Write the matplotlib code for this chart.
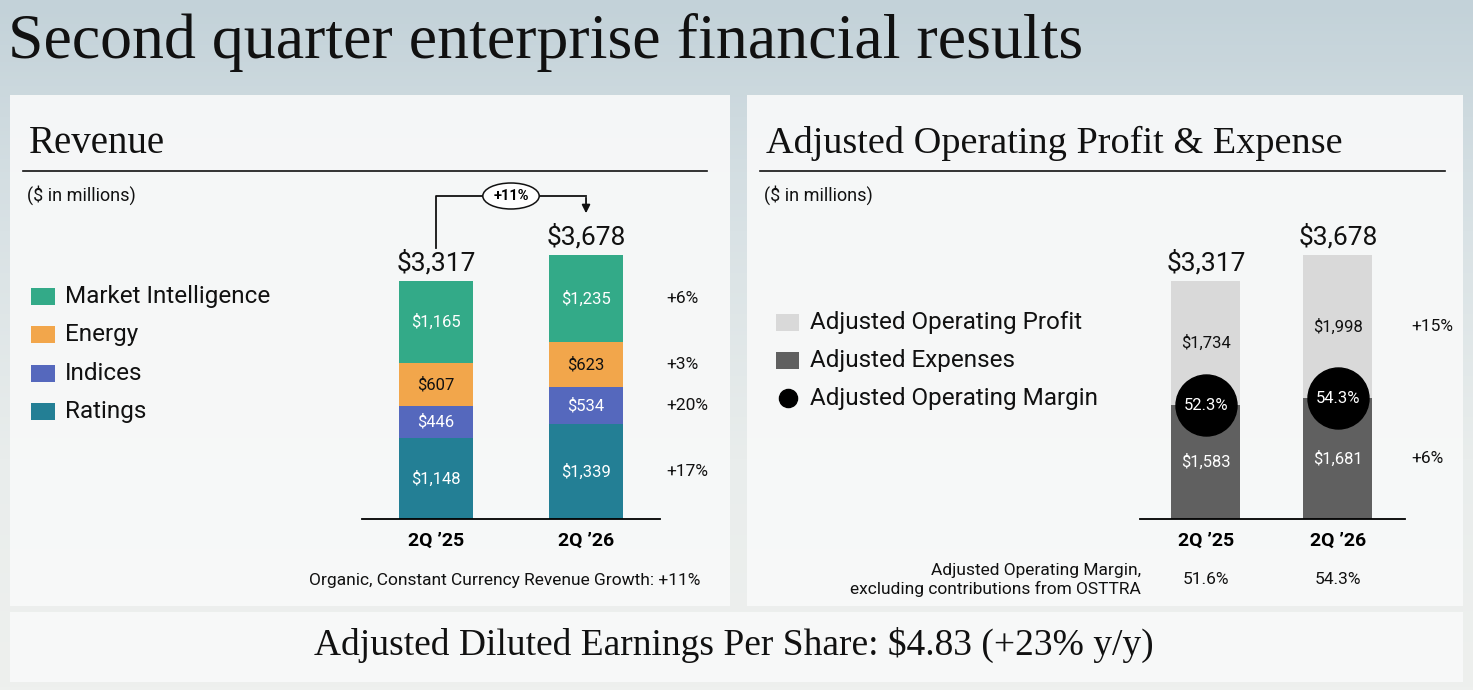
import matplotlib
matplotlib.use("Agg")
import matplotlib.pyplot as plt
import matplotlib.transforms as mtransforms
from matplotlib.colors import LinearSegmentedColormap
from matplotlib.patches import Rectangle
import numpy as np

plt.rcParams['text.parse_math'] = False
plt.rcParams['font.family'] = ['Roboto', 'DejaVu Sans']
SERIF = ['Liberation Serif', 'DejaVu Serif']

# --- data ---
quarters = ['2Q \u201925', '2Q \u201926']

# revenue, stacked bottom -> top
rev_segments = ['Ratings', 'Indices', 'Energy', 'Market Intelligence']
ratings = [1148, 1339]
indices = [446, 534]
energy = [607, 623]
market_intel = [1165, 1235]
rev_total = [3317, 3678]
rev_growth = ['+17%', '+20%', '+3%', '+6%']
rev_colors = ['#237f95', '#5568bd', '#f2a64b', '#33aa88']
rev_text_colors = ['white', 'white', '#111111', 'white']
legend_order = ['Market Intelligence', 'Energy', 'Indices', 'Ratings']
total_growth = '+11%'
organic_note = 'Organic, Constant Currency Revenue Growth: +11%'

# operating profit & expense
op_expenses = [1583, 1681]
op_profit = [1734, 1998]
op_total = [3317, 3678]
op_margin = [52.3, 54.3]
op_margin_ex_osttra = [51.6, 54.3]
op_growth = ['+6%', '+15%']
op_labels = ['Adjusted Operating Profit', 'Adjusted Expenses', 'Adjusted Operating Margin']
op_colors = ['#d9d9d9', '#606060']

eps_text = 'Adjusted Diluted Earnings Per Share: $4.83 (+23% y/y)'

# --- figure & background (pixel coords overlay) ---
W, H = 1473, 690
fig = plt.figure(figsize=(W / 100, H / 100), dpi=100)
bg = fig.add_axes([0, 0, 1, 1])
bg.set_xlim(0, W)
bg.set_ylim(H, 0)
bg.axis('off')

sky = LinearSegmentedColormap.from_list('sky', ['#c3d2d9', '#d9e2e5', '#e9edec', '#eef0ee'])
bg.imshow(np.linspace(0, 1, 200).reshape(-1, 1), cmap=sky, extent=[0, W, H, 0],
          aspect='auto', zorder=0)

for x0, y0, w, h in [(10, 95, 720, 511), (747, 95, 716, 511), (10, 612, 1453, 70)]:
    bg.add_patch(Rectangle((x0, y0), w, h, fc='#f8f9f9', ec='none', alpha=0.93, zorder=1))

bg.text(8, 58, 'Second quarter enterprise financial results', family=SERIF,
        fontsize=46, color='#111111', va='baseline', ha='left', zorder=2)
bg.text(29, 153, 'Revenue', family=SERIF, fontsize=28, color='#111111', va='baseline', zorder=2)
bg.text(766, 153, 'Adjusted Operating Profit & Expense', family=SERIF, fontsize=27.5,
        color='#111111', va='baseline', zorder=2)
bg.plot([23, 707], [171, 171], color='#111111', lw=1.2, zorder=2)
bg.plot([760, 1445], [171, 171], color='#111111', lw=1.2, zorder=2)
bg.text(27, 195, '($ in millions)', fontsize=13, color='#111111', va='center', zorder=2)
bg.text(764, 195, '($ in millions)', fontsize=13, color='#111111', va='center', zorder=2)
bg.text(734, 645, eps_text, family=SERIF, fontsize=27, color='#111111',
        ha='center', va='center', zorder=2)

# legends
color_of = dict(zip(rev_segments, rev_colors))
for i, name in enumerate(legend_order):
    y = 296 + i * 38.5
    bg.add_patch(Rectangle((31, y - 8.5), 24, 17, fc=color_of[name], ec='none', zorder=2))
    bg.text(65, y, name, fontsize=17.5, color='#111111', va='center', zorder=2)

for i, name in enumerate(op_labels):
    y = 322 + i * 38
    if i < 2:
        bg.add_patch(Rectangle((776, y - 8.5), 23, 17, fc=op_colors[i], ec='none', zorder=2))
    else:
        bg.scatter([788], [y], s=170, color='black', zorder=2)
    bg.text(810, y, name, fontsize=17.5, color='#111111', va='center', zorder=2)

# --- revenue chart ---
YMAX = 4725
ax1 = fig.add_axes([362 / W, (H - 519) / H, 298 / W, 339 / H])
ax1.patch.set_visible(False)
x = np.arange(len(quarters))
stack = np.array([ratings, indices, energy, market_intel], dtype=float)
stack = stack * (np.array(rev_total) / stack.sum(axis=0))  # bars drawn to the reported total
bottom = np.zeros(len(quarters))
for k, vals in enumerate(stack):
    raw = [ratings, indices, energy, market_intel][k]
    ax1.bar(x, vals, 0.49, bottom=bottom, color=rev_colors[k], edgecolor='none')
    for j in range(len(quarters)):
        ax1.text(x[j], bottom[j] + vals[j] / 2, f'${raw[j]:,}', ha='center', va='center',
                 fontsize=12, color=rev_text_colors[k])
    ax1.text(1.533, bottom[1] + vals[1] / 2, rev_growth[k], ha='left', va='center',
             fontsize=12.5, color='#111111', clip_on=False)
    bottom += vals
for j in range(len(quarters)):
    ax1.annotate(f'${rev_total[j]:,}', (x[j], rev_total[j]), xytext=(0, 4),
                 textcoords='offset points', ha='center', va='bottom', fontsize=19, color='#111111')

# growth bracket
top = rev_total[1] + 824
ax1.plot([0, 0, 1], [rev_total[0] + 460, top, top], color='#111111', lw=1.3, clip_on=False)
ax1.annotate('', xy=(1, rev_total[1] + 545), xytext=(1, top + 15),
             arrowprops=dict(arrowstyle='-|>', color='#111111', lw=1.3, mutation_scale=12),
             annotation_clip=False)
ax1.text(0.5, top, total_growth, ha='center', va='center', fontsize=10.5, fontweight='bold',
         bbox=dict(boxstyle='ellipse,pad=0.15', fc='white', ec='#111111', lw=1.1))

ax1.set_xlim(-0.493, 1.493)
ax1.set_ylim(0, YMAX)
ax1.set_xticks(x, quarters, fontsize=14, fontweight='bold')
ax1.tick_params(axis='x', length=0, pad=9)
ax1.set_yticks([])
for s in ['top', 'left', 'right']:
    ax1.spines[s].set_visible(False)
ax1.spines['bottom'].set_linewidth(1.3)
bg.text(700, 580, organic_note, fontsize=12.5, ha='right', va='center', color='#111111', zorder=2)

# --- operating profit chart ---
ax2 = fig.add_axes([1140 / W, (H - 519) / H, 265 / W, 339 / H])
ax2.patch.set_visible(False)
ax2.bar(x, op_expenses, 0.523, color=op_colors[1], edgecolor='none')
ax2.bar(x, op_profit, 0.523, bottom=op_expenses, color=op_colors[0], edgecolor='none')
for j in range(len(quarters)):
    ax2.text(x[j], op_expenses[j] / 2, f'${op_expenses[j]:,}', ha='center', va='center',
             fontsize=12, color='white')
    ax2.text(x[j], op_expenses[j] + op_profit[j] / 2, f'${op_profit[j]:,}', ha='center',
             va='center', fontsize=12, color='#111111')
    ax2.annotate(f'${op_total[j]:,}', (x[j], op_total[j]), xytext=(0, 4),
                 textcoords='offset points', ha='center', va='bottom', fontsize=19, color='#111111')
ax2.scatter(x, op_expenses, s=(61 * 0.72) ** 2, color='black', zorder=3, clip_on=False)
for j in range(len(quarters)):
    ax2.text(x[j], op_expenses[j], f'{op_margin[j]}%', ha='center', va='center',
             fontsize=12, color='white', zorder=4)
ax2.text(1.553, op_expenses[1] / 2, op_growth[0], ha='left', va='center', fontsize=12.5,
         color='#111111', clip_on=False)
ax2.text(1.553, op_expenses[1] + op_profit[1] / 2, op_growth[1], ha='left', va='center',
         fontsize=12.5, color='#111111', clip_on=False)

ax2.set_xlim(-0.5, 1.508)
ax2.set_ylim(0, YMAX)
ax2.set_xticks(x, quarters, fontsize=14, fontweight='bold')
ax2.tick_params(axis='x', length=0, pad=9)
ax2.set_yticks([])
for s in ['top', 'left', 'right']:
    ax2.spines[s].set_visible(False)
ax2.spines['bottom'].set_linewidth(1.3)

blend = mtransforms.blended_transform_factory(ax2.transData, bg.transData)
for j in range(len(quarters)):
    ax2.text(x[j], 580, f'{op_margin_ex_osttra[j]}%', transform=blend, ha='center',
             va='center', fontsize=12.5, color='#111111')
bg.text(1141, 580, 'Adjusted Operating Margin,\nexcluding contributions from OSTTRA',
        fontsize=12.5, ha='right', va='center', color='#111111', linespacing=1.2, zorder=2)

fig.savefig('out.png', dpi=100)
